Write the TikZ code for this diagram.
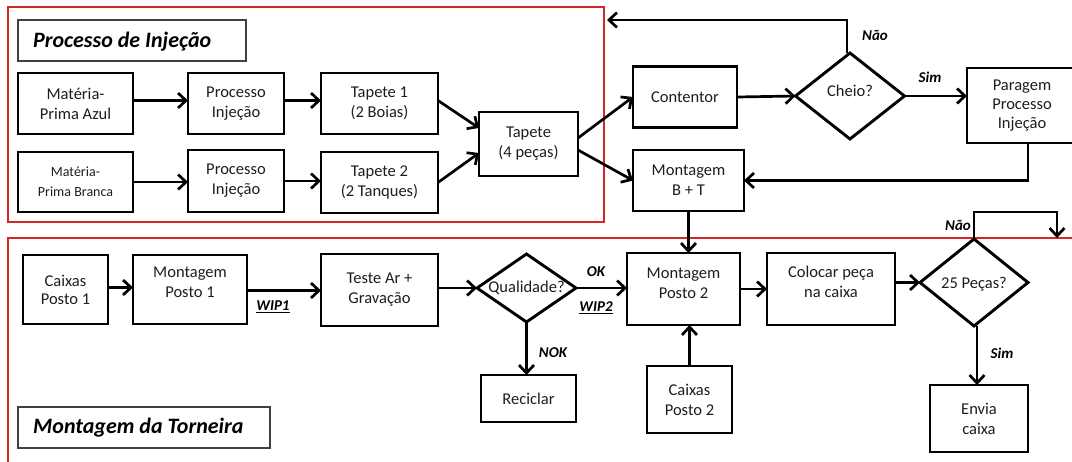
\documentclass[tikz,border=0pt]{standalone}
\usepackage{fontspec}
\setmainfont{Carlito}
\usetikzlibrary{arrows.meta,shapes.geometric,calc}
\definecolor{frcol}{RGB}{210,40,40}
\definecolor{txt}{RGB}{30,30,30}
\begin{document}
\begin{tikzpicture}[x=1pt,y=-1pt,
  box/.style={draw, line width=2.9pt, rectangle, inner sep=0pt, outer sep=0pt, align=center, text=txt, font=\fontsize{16.5}{20}\selectfont},
  thinbox/.style={box, line width=2.3pt},
  dia/.style={draw, diamond, line width=2.9pt, inner sep=0pt, outer sep=0pt},
  dtext/.style={font=\fontsize{16.5}{20}\selectfont, align=center, text=txt, inner sep=0pt},
  titlebox/.style={draw=black!75, line width=1.2pt, inner sep=0pt, outer sep=0pt},
  titletext/.style={font=\fontsize{22}{26}\selectfont\bfseries\itshape, anchor=west, inner sep=0pt},
  frame/.style={draw=frcol, line width=1.2pt},
  arr/.style={line width=2.7pt, -{Straight Barb[length=8pt,width=15pt]}},
  lbl/.style={font=\fontsize{15}{17}\selectfont\bfseries\itshape, inner sep=0pt},
]
\useasboundingbox (0,0) rectangle (1072,461);
\fill[white] (0,0) rectangle (1072,461);

% frames
\draw[frame] (8,7) rectangle (604,222);
\draw[frame] (8,238) rectangle (1090,480);

% titles
\node[titlebox, minimum width=228, minimum height=41] (ttl1) at (132,40.5) {};
\node[titletext] (ttl1t) at (33,42) {Processo de Injeção};
\node[titlebox, minimum width=252, minimum height=41] (ttl2) at (144,427.5) {};
\node[titletext] (ttl2t) at (33,428) {Montagem da Torneira};

% top section
\node[box, minimum width=115, minimum height=61] (mpa) at (75.5,103.5) {Matéria-\\Prima Azul};
\node[box, minimum width=96, minimum height=61] (pi1) at (236,103.5) {Processo\\Injeção};
\node[box, minimum width=117, minimum height=61] (t1) at (379.5,103.5) {Tapete 1\\(2 Boias)};
\node[box, minimum width=115, minimum height=60, font=\fontsize{14}{20}\selectfont] (mpb) at (75.5,182) {Matéria-\\Prima Branca};
\node[box, minimum width=96, minimum height=62] (pi2) at (236,181) {Processo\\Injeção};
\node[box, minimum width=117, minimum height=61] (t2) at (379.5,182.5) {Tapete 2\\(2 Tanques)};
\node[thinbox, minimum width=99, minimum height=64] (t4) at (528.5,144) {Tapete\\(4 peças)};
\node[box, minimum width=104, minimum height=61] (cont) at (685,97) {Contentor};
\node[dia, minimum width=109, minimum height=86, label={[dtext,yshift=5pt]center:Cheio?}] (cheio) at (850,96) {};
\node[box, minimum width=110, minimum height=75, font=\fontsize{16.5}{19}\selectfont] (parag) at (1022,105.5) {Paragem\\Processo\\Injeção};
\node[box, minimum width=111, minimum height=61] (mbt) at (688.5,180.5) {Montagem\\B + T};
\coordinate (ret) at (607,20);

% bottom section
\node[box, minimum width=85, minimum height=69, font=\fontsize{16.5}{18}\selectfont] (cp1) at (65.5,289.5) {Caixas\\Posto 1};
\node[box, minimum width=114, minimum height=69, label={[dtext,yshift=7pt]center:{Montagem\\Posto 1}}] (mp1) at (190,289.5) {};
\node[box, minimum width=117, minimum height=72] (ta) at (379.5,290) {Teste Ar +\\Gravação};
\node[dia, minimum width=99, minimum height=68, label={[dtext]center:Qualidade?}] (qual) at (526.5,288) {};
\node[thinbox, minimum width=95, minimum height=47] (recic) at (528.5,398.5) {Reciclar};
\node[box, minimum width=113, minimum height=72, label={[dtext,yshift=6pt]center:{Montagem\\Posto 2}}] (mp2) at (683.5,289) {};
\node[box, minimum width=85, minimum height=67] (cp2) at (689.5,399.5) {Caixas\\Posto 2};
\node[box, minimum width=128, minimum height=72, label={[dtext,yshift=7pt]center:{Colocar peça\\na caixa}}] (cpc) at (831,289) {};
\node[dia, minimum width=108, minimum height=87, label={[dtext,yshift=-2pt]center:25 Peças?}] (p25) at (974,282.5) {};
\node[box, minimum width=98, minimum height=67] (envia) at (979,418.5) {Envia\\caixa};
\coordinate (loopend) at (1057,238);

% labels
\node[lbl] (nao1) at (875,35) {Não};
\node[lbl] (sim1) at (930,77) {Sim};
\node[lbl] (wip1) at (273,307) {\underline{WIP1}};
\node[lbl] (ok) at (596,272) {OK};
\node[lbl] (wip2) at (596,308) {\underline{WIP2}};
\node[lbl] (nok) at (553,353) {NOK};
\node[lbl] (nao2) at (958,225) {Não};
\node[lbl] (sim2) at (1002,353) {Sim};

% arrows top
\draw[arr] ([yshift=3pt]mpa.east) -- ([yshift=3pt]pi1.west);
\draw[arr] ([yshift=3pt]pi1.east) -- ([yshift=3pt]t1.west);
\draw[arr] (mpb.east) -- (mpb.east -| pi2.west);
\draw[arr] (pi2.east) -- (pi2.east -| t2.west);
\draw[arr] ([yshift=3pt]t1.east) -- ([yshift=16pt]t4.west);
\draw[arr] (t2.east) -- ([yshift=-9pt]t4.west);
\draw[arr] ([yshift=6pt]t4.east) -- (cont.west);
\draw[arr] ([yshift=-6pt]t4.east) -- (mbt.west);
\draw[arr] (cont.east) -- (cheio.west);
\draw[arr] (cheio.east) -- (cheio.east -| parag.west);
\draw[arr] ([xshift=-3pt]cheio.north) |- (ret);
\draw[arr] ([xshift=6pt]parag.south) |- (mbt.east);
\draw[arr] (mbt.south) -- (mbt.south |- mp2.north);

% arrows bottom
\draw[arr] ([yshift=2pt]cp1.east) -- ([yshift=2pt]cp1.east -| mp1.west);
\draw[arr] ([yshift=-1pt]mp1.east) -- ([yshift=-1pt]mp1.east -| ta.west);
\draw[arr] (ta.east |- qual.west) -- (qual.west);
\draw[arr] (qual.east) -- (qual.east -| mp2.west);
\draw[arr] (qual.south) -- (qual.south |- recic.north);
\draw[arr] (mp2.east) -- (mp2.east -| cpc.west);
\draw[arr] (cpc.east |- p25.west) -- (p25.west);
\draw[arr] (p25.north) -- ++(0,-27) -| (loopend);
\draw[arr] ([xshift=3pt]p25.south) -- ([xshift=3pt]p25.south |- envia.north);
\draw[arr] (cp2.north) -- (cp2.north |- mp2.south);
\end{tikzpicture}
\end{document}
